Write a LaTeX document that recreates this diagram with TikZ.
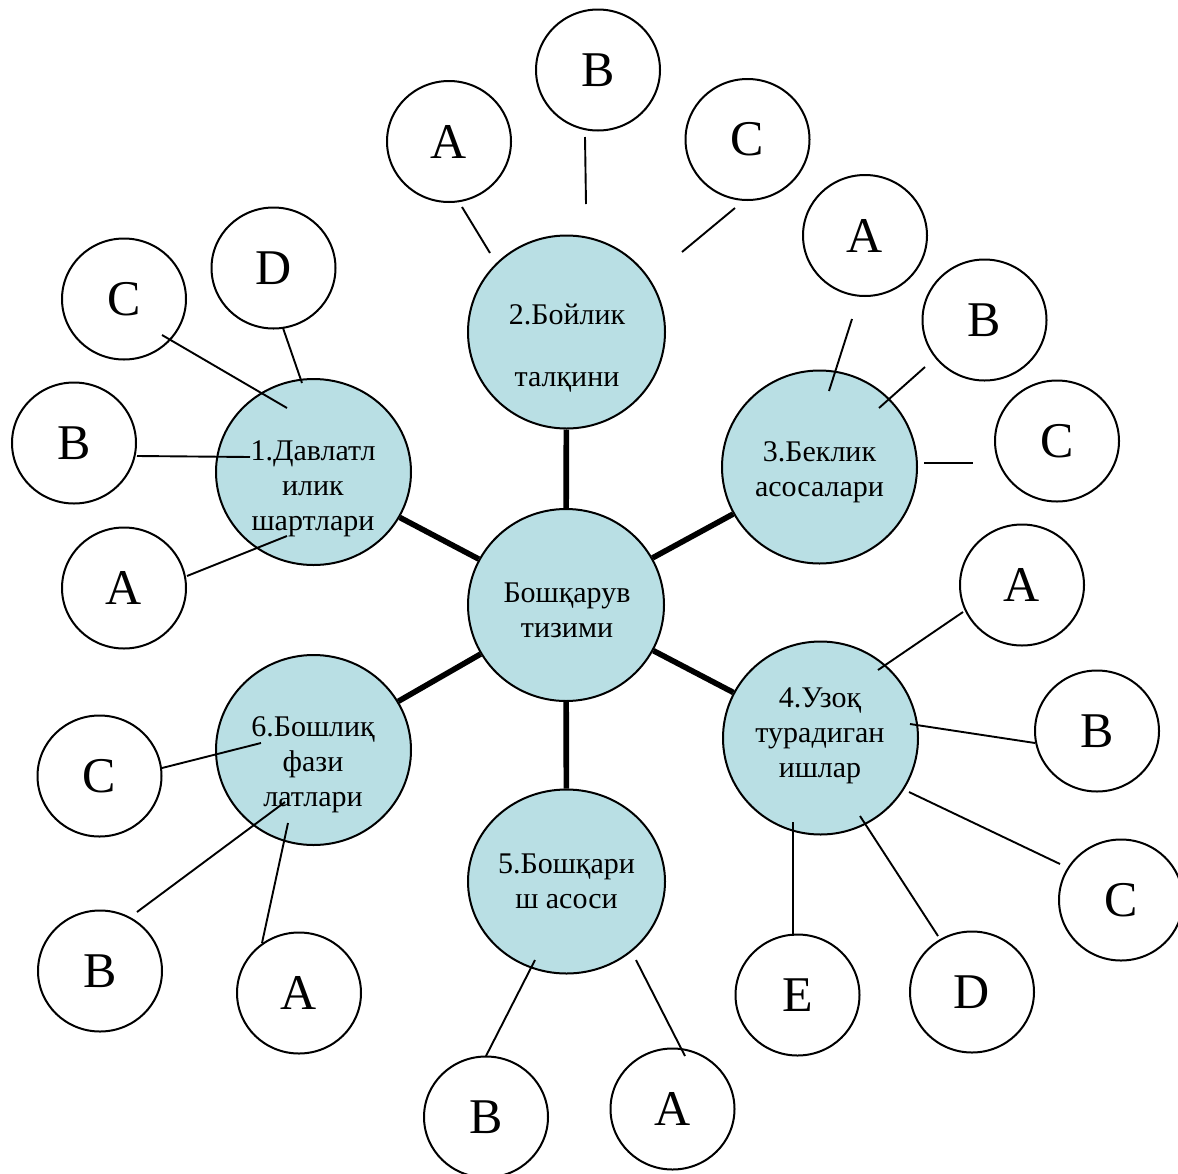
\documentclass[tikz,border=0pt]{standalone}
\usepackage{fontspec}
\setmainfont{Liberation Serif}
\usetikzlibrary{shapes.geometric}
\definecolor{bubble}{RGB}{185,223,228}
\begin{document}
\begin{tikzpicture}[x=0.5pt,y=-0.5pt,
 big/.style={ellipse,draw=black,line width=1pt,fill=bubble,inner sep=0pt},
 sm/.style={ellipse,draw=black,line width=1pt,fill=white,inner sep=0pt,minimum width=62pt,minimum height=60.5pt,font=\fontsize{25}{29}\selectfont},
 lbl/.style={align=center,font=\fontsize{15}{17.5}\selectfont,inner sep=0pt},
 spoke/.style={line width=2.8pt},
 conn/.style={line width=0.95pt}]
\useasboundingbox (0,0) rectangle (1178,1173);

% big circles
\node[big,minimum width=98pt,minimum height=96pt] (c) at (566,605) {};
\node[big,minimum width=98.5pt,minimum height=96.5pt] (n2) at (566.5,332) {};
\node[big,minimum width=97.5pt,minimum height=93pt] (n1) at (313.5,472) {};
\node[big,minimum width=97.5pt,minimum height=96.5pt] (n3) at (819.5,467) {};
\node[big,minimum width=97.5pt,minimum height=96.5pt] (n4) at (820.5,738) {};
\node[big,minimum width=98.5pt,minimum height=92pt] (n5) at (566.5,881.5) {};
\node[big,minimum width=97.5pt,minimum height=95pt] (n6) at (313.5,750) {};

% spokes
\foreach \n in {n1,n2,n3,n4,n5,n6} \draw[spoke] (c) -- (\n);

% labels
\node[lbl] (tc) at (567,610) {Бошқарув\\тизими};
\node[lbl] (t2) at (567,348) {2.Бойлик\\[13.5pt]талқини};
\node[lbl] (t1) at (313,489) {1.Давлатл\\илик\\шартлари};
\node[lbl] (t3) at (819.5,472) {3.Беклик\\асосалари};
\node[lbl] (t4) at (820,736) {4.Узоқ\\турадиган\\ишлар};
\node[lbl] (t5) at (566.5,881) {5.Бошқари\\ш асоси};
\node[lbl] (t6) at (313,765) {6.Бошлиқ\\фази\\латлари};

% small circles
\node[sm] (a2) at (449,141.5) {A};
\node[sm] (b2) at (598,70) {B};
\node[sm] (c2) at (747.5,139.5) {C};

\node[sm] (a3) at (865,235.5) {A};
\node[sm] (b3) at (984.5,320) {B};
\node[sm] (c3) at (1057,441) {C};

\node[sm] (d1) at (273.5,268) {D};
\node[sm] (c1) at (124,299) {C};
\node[sm] (b1) at (74,443) {B};
\node[sm] (a1) at (124,588) {A};

\node[sm] (a4) at (1022,585) {A};
\node[sm] (b4) at (1097,731) {B};
\node[sm] (c4) at (1121,900) {C};
\node[sm] (d4) at (972,992) {D};
\node[sm] (e4) at (797.5,995) {E};

\node[sm] (b5) at (486,1117) {B};
\node[sm] (a5) at (672.5,1109) {A};

\node[sm] (c6) at (99.5,776) {C};
\node[sm] (b6) at (100,971) {B};
\node[sm] (a6) at (299,993) {A};

% thin connectors
\draw[conn] (462,207) -- (490,253);
\draw[conn] (585,137) -- (586,204);
\draw[conn] (735,208) -- (682,252);

\draw[conn] (852,319) -- (829,391);
\draw[conn] (925,367) -- (879,408);
\draw[conn] (924,463) -- (973,463);

\draw[conn] (283,328) -- (302,383);
\draw[conn] (162,335) -- (287,408);
\draw[conn] (137,456) -- (250,457);
\draw[conn] (187,576) -- (287,536);

\draw[conn] (963,612) -- (878,670);
\draw[conn] (910,724) -- (1035,743);
\draw[conn] (909,792) -- (1060,864);
\draw[conn] (860,816) -- (938,936);
\draw[conn] (793,822) -- (793,936);

\draw[conn] (535,960) -- (486,1056);
\draw[conn] (636,960) -- (685,1056);

\draw[conn] (162,768) -- (261,743);
\draw[conn] (137,912) -- (285,802);
\draw[conn] (262,943) -- (288,823);
\end{tikzpicture}
\end{document}
